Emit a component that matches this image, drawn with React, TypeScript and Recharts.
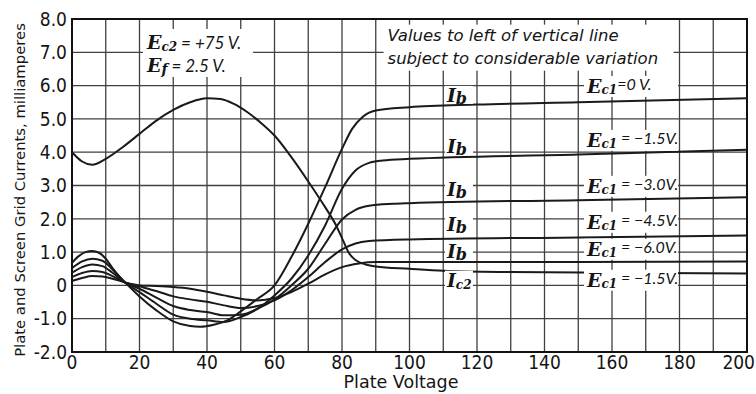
import React from 'react';
import {
  LineChart,
  Line,
  XAxis,
  YAxis,
  CartesianGrid,
  ReferenceArea,
  ReferenceDot,
  Label,
} from 'recharts';

type Pt = { x: number; y: number };
const pts = (a: number[][]): Pt[] => a.map(([x, y]) => ({ x, y }));

// Plate current, Ec1 = 0 V
const ibEc0 = pts([
  [0, 0.68], [2, 0.88], [4, 1.0], [6, 1.03], [8, 0.98], [10, 0.8], [12, 0.52], [14, 0.27],
  [16, 0.06], [20, -0.33], [25, -0.75], [30, -1.08], [35, -1.22], [38, -1.24], [42, -1.18],
  [46, -1.05], [50, -0.78], [55, -0.4], [60, 0.0], [65, 0.85], [70, 1.85], [75, 2.95], [80, 4.1],
  [83, 4.7], [86, 5.05], [90, 5.25], [100, 5.35], [120, 5.43], [150, 5.5], [200, 5.62],
]);
// Plate current, Ec1 = -1.5 V
const ibEc15 = pts([
  [0, 0.52], [3, 0.72], [6, 0.8], [9, 0.74], [12, 0.48], [16, 0.07], [20, -0.2], [25, -0.55],
  [30, -0.88], [35, -1.0], [40, -1.05], [45, -1.1], [50, -0.95], [55, -0.7], [60, -0.3],
  [65, 0.2], [70, 0.9], [75, 1.8], [80, 2.9], [84, 3.45], [88, 3.68], [92, 3.75], [100, 3.8],
  [150, 3.93], [200, 4.07],
]);
// Plate current, Ec1 = -3.0 V
const ibEc30 = pts([
  [0, 0.38], [3, 0.55], [6, 0.63], [9, 0.58], [12, 0.38], [16, 0.07], [20, -0.1], [25, -0.37],
  [30, -0.62], [35, -0.74], [40, -0.8], [45, -0.9], [50, -0.88], [55, -0.7], [60, -0.42],
  [65, 0.0], [70, 0.5], [75, 1.25], [80, 1.98], [84, 2.27], [88, 2.39], [95, 2.45], [100, 2.47],
  [150, 2.56], [200, 2.65],
]);
// Plate current, Ec1 = -4.5 V
const ibEc45 = pts([
  [0, 0.25], [3, 0.37], [6, 0.43], [9, 0.4], [12, 0.28], [16, 0.08], [20, -0.03], [25, -0.17],
  [30, -0.33], [35, -0.42], [40, -0.49], [45, -0.6], [50, -0.68], [55, -0.62], [60, -0.45],
  [65, -0.15], [70, 0.25], [75, 0.7], [80, 1.08], [84, 1.26], [88, 1.33], [100, 1.38],
  [150, 1.44], [200, 1.5],
]);
// Plate current, Ec1 = -6.0 V
const ibEc60 = pts([
  [0, 0.13], [3, 0.22], [6, 0.28], [9, 0.27], [12, 0.2], [16, 0.08], [20, 0.0], [25, -0.02],
  [30, -0.05], [35, -0.1], [40, -0.19], [45, -0.3], [50, -0.4], [55, -0.45], [60, -0.38],
  [65, -0.2], [70, 0.05], [75, 0.33], [80, 0.55], [85, 0.66], [90, 0.7], [100, 0.7],
  [150, 0.7], [200, 0.72],
]);
// Screen grid current, Ec1 = -1.5 V
const ic2 = pts([
  [0, 4.0], [3, 3.72], [6, 3.62], [10, 3.8], [15, 4.15], [20, 4.55], [25, 4.95], [30, 5.27],
  [35, 5.5], [40, 5.62], [44, 5.6], [48, 5.45], [52, 5.2], [56, 4.88], [60, 4.5], [65, 3.85],
  [70, 3.12], [75, 2.35], [78, 1.85], [80, 1.42], [82, 0.98], [84, 0.76], [87, 0.63], [90, 0.57],
  [100, 0.5], [110, 0.44], [130, 0.4], [160, 0.38], [200, 0.36],
]);

const xTicks = [0, 10, 20, 30, 40, 50, 60, 70, 80, 90, 100, 110, 120, 130, 140, 150, 160, 170, 180, 190, 200];
const yTicks = [-2, -1, 0, 1, 2, 3, 4, 5, 6, 7, 8];

// Curve annotations
const ibLabelYs = [5.69, 4.16, 2.87, 1.82, 1.01];
const ecLabelYs = [5.96, 4.34, 2.96, 1.88, 1.07, 0.14];
const ecLabelTexts = ['=0 V.', ' = \u22121.5V.', ' = \u22123.0V.', ' = \u22124.5V.', ' = \u22126.0V.', ' = \u22121.5V.'];
const ic2LabelY = 0.14;

const SANS = "Lato, 'DejaVu Sans', sans-serif";
const WIDE = "'DejaVu Sans', sans-serif";
const NARROW = "'Liberation Sans Narrow', 'DejaVu Sans Condensed', sans-serif";
const SERIF = "'DejaVu Serif', 'Liberation Serif', serif";
const INK = '#151515';

const series = [ibEc0, ibEc15, ibEc30, ibEc45, ibEc60, ic2];

const EcTag = (p: any, txt: string) => {
  const { x, y } = p.viewBox || {};
  return (
    <g>
      <rect x={x - 3} y={y - 11} width={94} height={21} fill="#fff" />
      <text x={x} y={y + 6} fill={INK}>
        <tspan fontFamily={SERIF} fontWeight="bold" fontStyle="italic" fontSize={19}>E</tspan>
        <tspan fontFamily={SERIF} fontWeight="bold" fontStyle="italic" fontSize={12} dy={1}>c1</tspan>
        <tspan fontFamily={SANS} fontStyle="italic" fontSize={16} dy={-4}>{txt}</tspan>
      </text>
    </g>
  );
};

const ITag = (p: any, sub: string) => {
  const { x, y } = p.viewBox || {};
  return (
    <g>
      <rect x={x - 2} y={y - 10} width={28} height={18} fill="#fff" />
      <text x={x} y={y + 6} fill={INK}>
        <tspan fontFamily={SERIF} fontWeight="bold" fontStyle="italic" fontSize={19}>I</tspan>
        <tspan fontFamily={SERIF} fontWeight="bold" fontStyle="italic" fontSize={sub === 'b' ? 16 : 12} dy={2}>{sub}</tspan>
      </text>
    </g>
  );
};

const ParamBox = (p: any) => {
  const { x, y } = p.viewBox || {};
  return (
    <g>
      <rect x={x - 4} y={y - 20} width={110} height={48} fill="#fff" />
      <text x={x} y={y} fill={INK}>
        <tspan fontFamily={SERIF} fontWeight="bold" fontStyle="italic" fontSize={19}>E</tspan>
        <tspan fontFamily={SERIF} fontWeight="bold" fontStyle="italic" fontSize={12} dy={2}>c2</tspan>
        <tspan fontFamily={SANS} fontStyle="italic" fontSize={17} dy={-2}> = +75 V.</tspan>
      </text>
      <text x={x} y={y + 23} fill={INK}>
        <tspan fontFamily={SERIF} fontWeight="bold" fontStyle="italic" fontSize={19}>E</tspan>
        <tspan fontFamily={SERIF} fontWeight="bold" fontStyle="italic" fontSize={14} dy={2}>f</tspan>
        <tspan fontFamily={SANS} fontStyle="italic" fontSize={17} dy={-2}> = 2.5 V.</tspan>
      </text>
    </g>
  );
};

const NoteBox = (p: any) => {
  const { x, y } = p.viewBox || {};
  return (
    <g>
      <rect x={x - 4} y={y - 16} width={290} height={46} fill="#fff" />
      <text x={x} y={y} fill={INK} fontFamily={WIDE} fontStyle="italic" fontSize={16.5}>
        Values to left of vertical line
      </text>
      <text x={x} y={y + 23} fill={INK} fontFamily={WIDE} fontStyle="italic" fontSize={16.5}>
        subject to considerable variation
      </text>
    </g>
  );
};

const XTick = (p: any) => {
  const { x, y, payload } = p;
  const v = payload?.value;
  if (v % 20 !== 0) return <g />;
  const last = v === 200;
  return (
    <text
      x={last ? x + 8 : x}
      y={y}
      dy="0.72em"
      textAnchor={last ? 'end' : 'middle'}
      fill={INK}
      fontFamily={NARROW}
      fontSize={19}
    >
      {String(v)}
    </text>
  );
};

export default function App() {
  return (
    <div style={{ position: 'absolute', left: 0, top: 0, background: '#fff' }}>
      <LineChart width={756} height={394} margin={{ top: 19, right: 9, left: 0, bottom: 0 }}>
        <CartesianGrid stroke="#404040" strokeWidth={1.3} />
        <XAxis
          type="number"
          dataKey="x"
          domain={[0, 200]}
          ticks={xTicks}
          interval={0}
          height={42}
          tickLine={false}
          axisLine={false}
          tickSize={0}
          tickMargin={3}
          tick={XTick}
        >
          <Label
            content={() => (
              <text x={401} y={388} textAnchor="middle" fill={INK} fontFamily={WIDE} fontSize={17.5}>
                Plate Voltage
              </text>
            )}
          />
        </XAxis>
        <YAxis
          type="number"
          domain={[-2, 8]}
          ticks={yTicks}
          interval={0}
          tickFormatter={(v: number) => (v === 0 ? '0' : v.toFixed(1))}
          width={72}
          tickLine={false}
          axisLine={false}
          tickSize={0}
          tickMargin={5}
          tick={{ fill: INK, fontSize: 19, fontFamily: NARROW }}
        >
          <Label
            content={() => (
              <text
                x={19}
                y={190}
                transform="rotate(-90 19 190)"
                textAnchor="middle"
                dominantBaseline="central"
                fill={INK}
                fontFamily={WIDE}
                fontSize={14.8}
              >
                Plate and Screen Grid Currents, milliamperes
              </text>
            )}
          />
        </YAxis>
        <ReferenceArea x1={0} x2={200} y1={-2} y2={8} fill="none" stroke="#111" strokeWidth={2} />
        {series.map((d, i) => (
          <Line
            key={i}
            data={d}
            dataKey="y"
            type="monotone"
            stroke="#1a1a1a"
            strokeWidth={2}
            dot={false}
            activeDot={false}
            isAnimationActive={false}
          />
        ))}
        <ReferenceDot x={22.2} y={7.1} r={0} fill="none" stroke="none" label={(p: any) => ParamBox(p)} />
        <ReferenceDot x={93.5} y={7.35} r={0} fill="none" stroke="none" label={(p: any) => NoteBox(p)} />
        {ibLabelYs.map((y, i) => (
          <ReferenceDot key={'ib' + i} x={111.1} y={y} r={0} fill="none" stroke="none" label={(p: any) => ITag(p, 'b')} />
        ))}
        <ReferenceDot x={111.1} y={ic2LabelY} r={0} fill="none" stroke="none" label={(p: any) => ITag(p, 'c2')} />
        {ecLabelYs.map((y, i) => (
          <ReferenceDot key={'ec' + i} x={152.6} y={y} r={0} fill="none" stroke="none" label={(p: any) => EcTag(p, ecLabelTexts[i])} />
        ))}
      </LineChart>
    </div>
  );
}
